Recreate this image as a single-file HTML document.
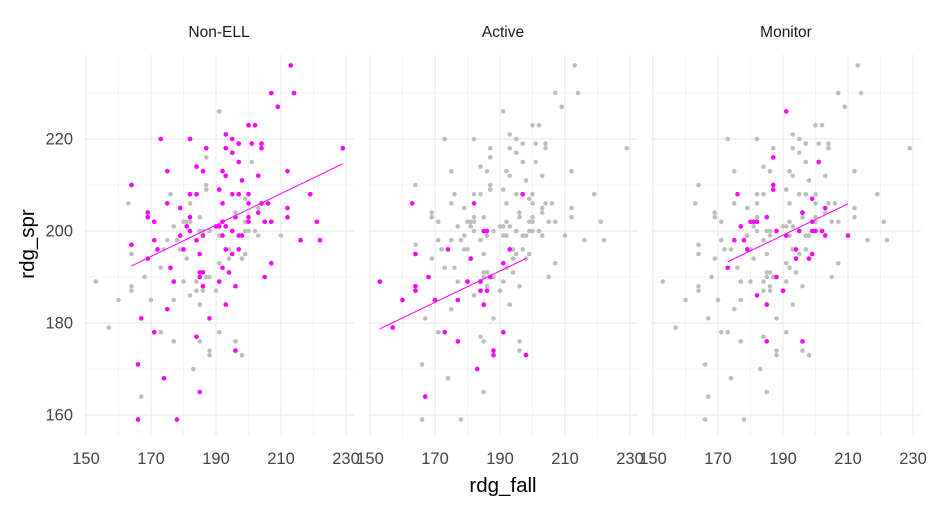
<!DOCTYPE html>
<html><head><meta charset="utf-8"><style>
body{margin:0;background:#fff;}
svg text{font-family:"Liberation Sans",sans-serif;}
</style></head><body>
<svg id="chart" width="936" height="504" xmlns="http://www.w3.org/2000/svg"></svg>
<script>
const panelNames = ["Non-ELL","Active","Monitor"];
const nonEllX = [213,207,214,209,200,202,173,182,193,195,197,201,204,204,187,193,195,229,197,184,175,186,192,193,212,203,198,164,191,182,184,195,197,200,219,175,192,200,204,206,179,212,203,169,169,182,200,212,171,192,196,205,207,221,181,190,191,193,182,195,200,
179,186,171,184,192,197,198,216,222,164,172,180,185,193,197,195,169,176,192,207,185,186,194,185,205,177,191,186,196,193,175,188,167,171,184,196,166,174,185,166,178];
const nonEllY = [236,230,230,227,223,223,220,220,221,220,219,219,219,218,218,218,217,218,215,214,213,213,213,212,213,212,211,210,209,208,208,208,208,208,208,206,206,206,206,206,205,205,204,204,203,203,203,203,202,202,203,202,202,202,201,201,201,201,200,200,202,
199,199,198,198,199,199,199,198,198,197,196,196,195,196,196,195,194,192,192,193,191,191,191,190,190,189,189,188,188,184,183,181,181,178,177,174,171,168,165,159,159];
const activeX = [163,182,197,185,186,174,193,164,181,191,168,153,180,184,187,164,164,160,170,177,184,186,185,157,173,191,177,188,188,198,183,167];
const activeY = [206,206,208,200,200,196,196,195,194,193,190,189,189,189,190,188,187,185,185,185,187,187,184,179,178,178,176,174,173,173,170,164];
const monitorX = [191,187,201,187,187,176,199,203,196,185,180,181,182,199,177,188,195,199,200,202,191,203,210,175,178,179,194,194,199,198,173,188,190,182,185,185,196];
const monitorY = [226,216,215,210,209,208,207,205,204,203,202,202,202,202,201,200,200,200,200,200,199,199,199,198,198,196,196,194,195,194,192,190,187,186,184,176,176];
const fitIntercepts = [136.4,126.7,134.4];
const fitSlopes = [0.3415,0.34,0.3405];
const xTicks = [150,170,190,210,230];
const yTicks = [160,180,200,220];
const groupsX=[nonEllX,activeX,monitorX], groupsY=[nonEllY,activeY,monitorY];
const svg=document.getElementById('chart');
const NS='http://www.w3.org/2000/svg';
function mk(t,a,p){const e=document.createElementNS(NS,t);for(const k in a)e.setAttribute(k,a[k]);(p||svg).appendChild(e);return e;}
const PW=270, starts=[84,368,651], panelTop=55, panelBot=436;
function sx(p,v){return starts[p]+2+(v-150)*3.25;}
function sy(v){return 415-(v-160)*4.6;}
const allX=[].concat(nonEllX,activeX,monitorX), allY=[].concat(nonEllY,activeY,monitorY);
for(let p=0;p<3;p++){
  const g=mk('g',{});
  
  
  for(let v=160;v<=230;v+=20){mk('line',{x1:sx(p,v),x2:sx(p,v),y1:panelTop,y2:panelBot,stroke:'#ebebeb','stroke-width':0.6},g);}
  for(let v=170;v<=230;v+=20){mk('line',{x1:starts[p],x2:starts[p]+PW,y1:sy(v),y2:sy(v),stroke:'#ebebeb','stroke-width':0.6},g);}
  xTicks.forEach(v=>{const l=mk('line',{x1:sx(p,v),x2:sx(p,v),y1:panelTop,y2:panelBot,stroke:'#ebebeb','stroke-width':1.2},g);
    
    const t=mk('text',{x:sx(p,v),y:464,'text-anchor':'middle','font-size':16.5,fill:'#444'},g);t.textContent=v;
    });
  yTicks.forEach(v=>{const l=mk('line',{x1:starts[p],x2:starts[p]+PW,y1:sy(v),y2:sy(v),stroke:'#ebebeb','stroke-width':1.2},g);
    });
  const st=mk('text',{x:starts[p]+135,y:37,'text-anchor':'middle','font-size':15.5,fill:'#1a1a1a'},g);st.textContent=panelNames[p];
  
  for(let i=0;i<allX.length;i++){const c=mk('circle',{cx:sx(p,allX[i]),cy:sy(allY[i]),r:2.3,fill:'#bebebe'},g);
    }
  const X=groupsX[p],Y=groupsY[p];
  for(let i=0;i<X.length;i++){const c=mk('circle',{cx:sx(p,X[i]),cy:sy(Y[i]),r:2.3,fill:'#ff00ff'},g);
    }
  const a=fitIntercepts[p],b=fitSlopes[p],x0=Math.min(...X),x1=Math.max(...X);
  const fl=mk('line',{x1:sx(p,x0),y1:sy(a+b*x0),x2:sx(p,x1),y2:sy(a+b*x1),stroke:'#ff00ff','stroke-width':1},g);
  
}
yTicks.forEach(v=>{const t=mk('text',{x:73,y:sy(v)+5.5,'text-anchor':'end','font-size':16.5,fill:'#444'});t.textContent=v;
  });
const xt=mk('text',{x:503,y:492,'text-anchor':'middle','font-size':20.5,fill:'#000'});xt.textContent='rdg_fall';

const yt=mk('text',{x:0,y:0,'text-anchor':'middle','font-size':20.5,fill:'#000',transform:'translate(34,244) rotate(-90)'});yt.textContent='rdg_spr';

</script>
</body></html>
